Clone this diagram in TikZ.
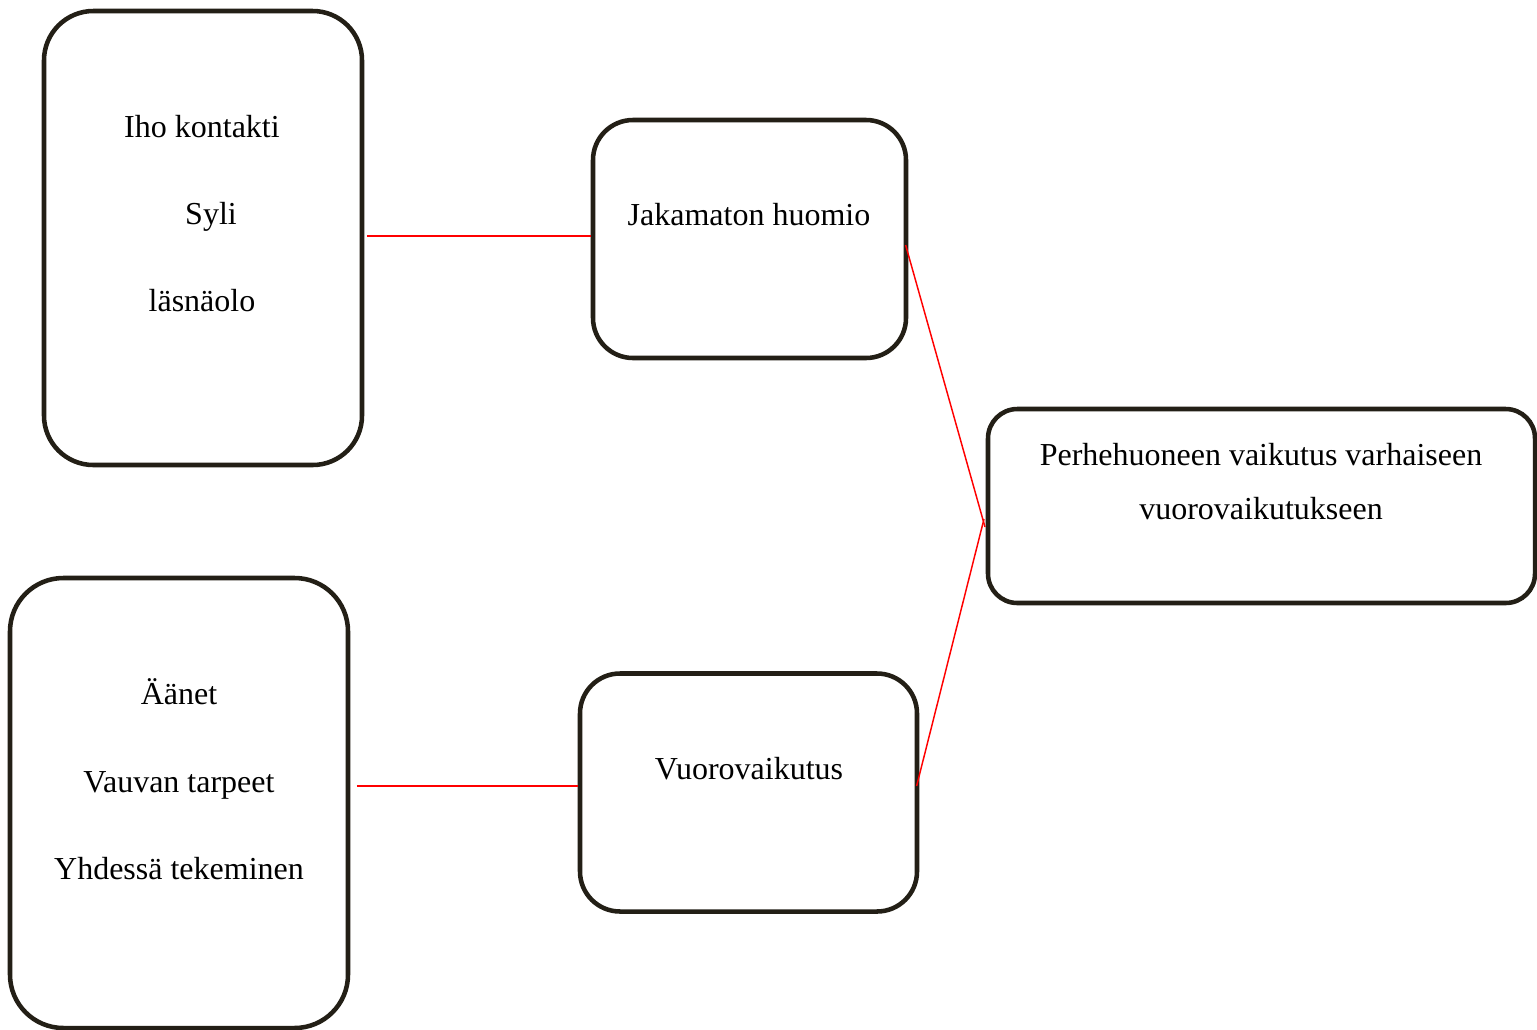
\documentclass[tikz,border=0pt]{standalone}
\usepackage{fontspec}
\setmainfont{Liberation Serif}
\begin{document}
\begin{tikzpicture}[x=0.75pt,y=-0.75pt,
  box/.style={draw=boxcol,line width=3.4pt,fill=white,rounded corners=#1,inner sep=0pt},
  lbl/.style={font=\fontsize{24}{28}\selectfont,anchor=base,inner sep=0pt},
  link/.style={draw=red,line width=1.1pt}]
\definecolor{boxcol}{RGB}{35,31,22}
\useasboundingbox[fill=white] (0,0) rectangle (1537,1029);
% boxes
\node[box=37pt,minimum width=238.5pt,minimum height=340.5pt] (A) at (203,238) {};
\node[box=30pt,minimum width=234.75pt,minimum height=178.5pt] (B) at (749.5,239) {};
\node[box=22pt,minimum width=410.25pt,minimum height=145.5pt] (C) at (1261.5,506) {};
\node[box=40pt,minimum width=253.5pt,minimum height=337.5pt] (D) at (179,803) {};
\node[box=30pt,minimum width=252.75pt,minimum height=178.5pt] (E) at (748.5,792.5) {};
% texts
\node[lbl] (t1) at (202,137) {Iho kontakti};
\node[lbl] (t2) at (211,224) {Syli};
\node[lbl] (t3) at (202,311) {läsnäolo};
\node[lbl] (t4) at (749,225) {Jakamaton huomio};
\node[lbl] (t5) at (1261,465) {Perhehuoneen vaikutus varhaiseen};
\node[lbl] (t6) at (1261,519) {vuorovaikutukseen};
\node[lbl] (t7) at (179,704) {Äänet};
\node[lbl] (t8) at (179,792) {Vauvan tarpeet};
\node[lbl] (t9) at (179,879) {Yhdessä tekeminen};
\node[lbl] (t10) at (749,779) {Vuorovaikutus};
% connectors
\coordinate (j1) at (985,527);
\coordinate (j2) at (984,519);
\draw[link] ([xshift=2pt]A.east |- 0,236) -- (B.west |- 0,236);
\draw[link] ([xshift=5pt]D.east |- 0,786) -- (E.west |- 0,786);
\draw[link] ([xshift=-2pt]B.east |- 0,245) -- (j1);
\draw[link] ([xshift=-2pt]E.east |- 0,786) -- (j2);
\end{tikzpicture}
\end{document}
